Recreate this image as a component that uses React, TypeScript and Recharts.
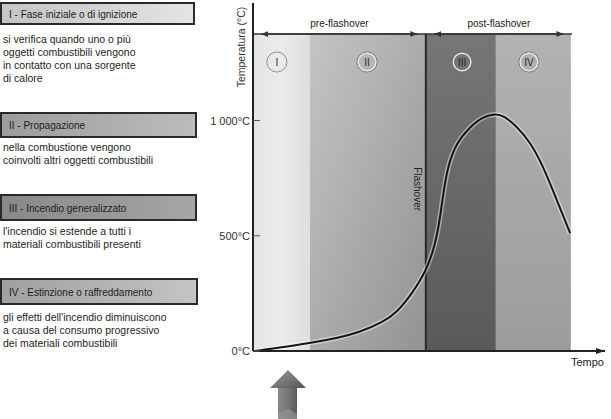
import React from 'react';
import {
  ComposedChart,
  Line,
  XAxis,
  YAxis,
  ReferenceArea,
  ReferenceLine,
  ReferenceDot,
} from 'recharts';

// fire curve (time in arbitrary units 0..100, temperature in °C)
const timeValues = [0.5, 8, 16, 24, 30, 37, 41, 45, 49.3, 51.7, 53.1, 54.1, 55.5, 57.9, 61.2, 65, 68.8, 71.1, 74.9, 78.7, 82.5, 86.3, 90.1];
const temperatureValues = [0, 15, 35, 56, 80, 125, 170, 245, 350, 458, 572, 690, 812, 905, 965, 1015, 1030, 1022, 976, 908, 800, 655, 511];

const temperatureTicks = [0, 500, 1000];
const temperatureTickLabels = ['0°C', '500°C', '1 000°C'];

const phaseNames = ['I', 'II', 'III', 'IV'];
const phaseStart = [0, 16.2, 49.1, 69.0];
const phaseEnd = [16.2, 49.1, 69.0, 90.3];
const phaseLabelTime = [6.8, 32.4, 59.4, 78.4];

const periodNames = ['pre-flashover', 'post-flashover'];
const periodStart = [0, 49.1];
const periodEnd = [49.1, 90.6];

const flashoverTime = 49.1;
const bandTop = 1375;
const phaseLabelTemp = 1254;

const phaseTitles = [
  'I  -  Fase iniziale o di ignizione',
  'II  -  Propagazione',
  'III  -  Incendio generalizzato',
  'IV  -  Estinzione o raffreddamento',
];
const phaseDescriptions = [
  ['si verifica quando uno o più', 'oggetti combustibili vengono', 'in contatto con una sorgente', 'di calore'],
  ['nella combustione vengono', 'coinvolti altri oggetti combustibili'],
  ["l'incendio si estende a tutti i", 'materiali combustibili presenti'],
  ["gli effetti dell'incendio diminuiscono", 'a causa del consumo progressivo', 'dei materiali combustibili'],
];

const chartData = timeValues.map((t, i) => ({ time: t, temperature: temperatureValues[i] }));

const FONT = '"Liberation Sans", Arial, sans-serif';
const phaseFills = ['url(#phase1)', 'url(#phase2)', 'url(#phase3)', 'url(#phase4)'];
const boxFills = ['url(#box1)', 'url(#box2)', 'url(#box3)', 'url(#box4)'];
const boxTop = [2, 112, 194, 278];
const boxHeight = [23, 26, 27, 27];
const boxWidth = [195, 197, 197, 198];
const textTop = [33, 141, 225, 311];

function Defs() {
  return (
    <svg width={0} height={0} style={{ position: 'absolute' }}>
      <defs>
        <linearGradient id="phase1" x1="0" y1="0" x2="1" y2="0">
          <stop offset="0%" stopColor="#e4e4e4" />
          <stop offset="50%" stopColor="#ebebeb" />
          <stop offset="100%" stopColor="#dedede" />
        </linearGradient>
        <linearGradient id="phase2" x1="0" y1="0" x2="1" y2="1">
          <stop offset="0%" stopColor="#c4c4c4" />
          <stop offset="100%" stopColor="#939393" />
        </linearGradient>
        <linearGradient id="phase3" x1="0" y1="0" x2="0" y2="1">
          <stop offset="0%" stopColor="#767676" />
          <stop offset="100%" stopColor="#5a5a5a" />
        </linearGradient>
        <linearGradient id="phase4" x1="0" y1="0" x2="0" y2="1">
          <stop offset="0%" stopColor="#b2b2b2" />
          <stop offset="100%" stopColor="#9c9c9c" />
        </linearGradient>
        <linearGradient id="box1" x1="0" y1="0" x2="1" y2="0">
          <stop offset="0%" stopColor="#c4c4c4" />
          <stop offset="100%" stopColor="#e4e4e4" />
        </linearGradient>
        <linearGradient id="box2" x1="0" y1="0" x2="1" y2="0">
          <stop offset="0%" stopColor="#9c9c9c" />
          <stop offset="100%" stopColor="#bcbcbc" />
        </linearGradient>
        <linearGradient id="box3" x1="0" y1="0" x2="1" y2="0">
          <stop offset="0%" stopColor="#888888" />
          <stop offset="100%" stopColor="#a6a6a6" />
        </linearGradient>
        <linearGradient id="box4" x1="0" y1="0" x2="1" y2="0">
          <stop offset="0%" stopColor="#a0a0a0" />
          <stop offset="100%" stopColor="#c4c4c4" />
        </linearGradient>
        <linearGradient id="arrowHead" x1="0" y1="0" x2="1" y2="1">
          <stop offset="0%" stopColor="#9a9a9a" />
          <stop offset="100%" stopColor="#555555" />
        </linearGradient>
        <linearGradient id="arrowShaft" x1="0" y1="0" x2="1" y2="0">
          <stop offset="0%" stopColor="#8a8a8a" />
          <stop offset="50%" stopColor="#777777" />
          <stop offset="100%" stopColor="#5a5a5a" />
        </linearGradient>
        <marker id="tipEnd" markerWidth="8" markerHeight="8" refX="7" refY="4" orient="auto" markerUnits="userSpaceOnUse">
          <path d="M0,1 L7,4 L0,7 Z" fill="#333" />
        </marker>
        <marker id="tipStart" markerWidth="8" markerHeight="8" refX="1" refY="4" orient="auto" markerUnits="userSpaceOnUse">
          <path d="M8,1 L1,4 L8,7 Z" fill="#333" />
        </marker>
        <marker id="axisArrow" markerWidth="10" markerHeight="8" refX="9" refY="4" orient="auto" markerUnits="userSpaceOnUse">
          <path d="M0,1 L9,4 L0,7 Z" fill="#222" />
        </marker>
      </defs>
    </svg>
  );
}

function TempTick(props: any) {
  const { x, y, payload } = props;
  const idx = temperatureTicks.indexOf(payload.value);
  return (
    <g>
      <line x1={x} x2={x + 7} y1={y} y2={y} stroke="#555" strokeWidth={1} />
      <text x={x - 3} y={y} dy={4} textAnchor="end" fontSize={11} fill="#333" fontFamily={FONT}>
        {temperatureTickLabels[idx]}
      </text>
    </g>
  );
}

function LeftPanel() {
  return (
    <>
      {phaseTitles.map((title, i) => (
        <React.Fragment key={title}>
          <svg
            width={boxWidth[i]}
            height={boxHeight[i]}
            style={{ position: 'absolute', left: 0, top: boxTop[i] }}
          >
            <rect x={1} y={1} width={boxWidth[i] - 2} height={boxHeight[i] - 2} fill={boxFills[i]} stroke="#2a2a2a" strokeWidth={2} />
            <text x={9} y={boxHeight[i] / 2 + 4} fontSize={10} fill="#1e1e1e" fontFamily={FONT}>
              {title}
            </text>
          </svg>
          <div
            style={{
              position: 'absolute',
              left: 3,
              top: textTop[i],
              fontFamily: FONT,
              fontSize: 10.5,
              lineHeight: '13px',
              color: '#1e1e1e',
              whiteSpace: 'nowrap',
            }}
          >
            {phaseDescriptions[i].map((line) => (
              <div key={line}>{line}</div>
            ))}
          </div>
        </React.Fragment>
      ))}
    </>
  );
}

export default function App() {
  return (
    <div style={{ position: 'absolute', left: 0, top: 0, width: 611, height: 419, background: '#fff', overflow: 'hidden' }}>
      <Defs />
      <LeftPanel />
      <ComposedChart
        width={611}
        height={419}
        data={chartData}
        margin={{ top: 3, right: 6, bottom: 48, left: 0 }}
        style={{ position: 'absolute', left: 0, top: 0 }}
      >
        <XAxis
          dataKey="time"
          type="number"
          domain={[0, 100]}
          height={20}
          tick={false}
          tickLine={false}
          axisLine={{ stroke: '#222', strokeWidth: 2, markerEnd: 'url(#axisArrow)' } as any}
          label={{
            content: (p: any) => (
              <text
                x={p.viewBox.x + p.viewBox.width - 1}
                y={p.viewBox.y + 15}
                textAnchor="end"
                fontSize={11}
                fill="#222"
                fontFamily={FONT}
              >
                Tempo
              </text>
            ),
          }}
        />
        <YAxis
          type="number"
          domain={[0, 1510]}
          ticks={temperatureTicks}
          width={253}
          tickSize={0}
          tickMargin={0}
          tickLine={false}
          tick={<TempTick />}
          axisLine={{ stroke: '#222', strokeWidth: 2 }}
          label={{
            content: (p: any) => {
              const cx = p.viewBox.x + p.viewBox.width - 8;
              const cy = p.viewBox.y + 44;
              return (
                <text
                  x={cx}
                  y={cy}
                  transform={`rotate(-90 ${cx} ${cy})`}
                  textAnchor="middle"
                  fontSize={10.5}
                  fill="#333"
                  fontFamily={FONT}
                >
                  Temperatura (°C)
                </text>
              );
            },
          }}
        />

        {phaseNames.map((name, i) => (
          <ReferenceArea
            key={`area-${name}`}
            x1={phaseStart[i]}
            x2={phaseEnd[i]}
            y1={0}
            y2={bandTop}
            fill={phaseFills[i]}
            fillOpacity={1}
            stroke="none"
          />
        ))}

        <ReferenceLine
          segment={[
            { x: periodStart[0], y: bandTop },
            { x: periodEnd[1], y: bandTop },
          ]}
          stroke="#333"
          strokeWidth={1.5}
        />
        {periodNames.map((name, i) => (
          <ReferenceLine
            key={name}
            segment={[
              { x: periodStart[i] + 2.4, y: bandTop },
              { x: periodEnd[i] - 2.4, y: bandTop },
            ]}
            stroke="#333"
            strokeWidth={1.5}
            {...({ markerStart: 'url(#tipStart)', markerEnd: 'url(#tipEnd)' } as any)}
            label={{ value: name, position: 'top', offset: 7, fontSize: 10, fill: '#222', fontFamily: FONT }}
          />
        ))}

        <ReferenceLine
          segment={[
            { x: flashoverTime, y: 0 },
            { x: flashoverTime, y: bandTop },
          ]}
          stroke="#2a2a2a"
          strokeWidth={2}
          label={{
            content: (p: any) => {
              const cx = p.viewBox.x - 12;
              const cy = p.viewBox.y + 155;
              return (
                <text
                  x={cx}
                  y={cy}
                  transform={`rotate(90 ${cx} ${cy})`}
                  textAnchor="middle"
                  fontSize={10}
                  fill="#222"
                  fontFamily={FONT}
                >
                  Flashover
                </text>
              );
            },
          }}
        />

        {phaseNames.map((name, i) => (
          <ReferenceDot
            key={`ring-${name}`}
            x={phaseLabelTime[i]}
            y={phaseLabelTemp}
            r={10}
            fill="none"
            stroke="#6a6a6a"
            strokeWidth={0.8}
          />
        ))}
        {phaseNames.map((name, i) => (
          <ReferenceDot
            key={`dot-${name}`}
            x={phaseLabelTime[i]}
            y={phaseLabelTemp}
            r={8.8}
            fill="none"
            stroke="#e6e6e6"
            strokeWidth={1.5}
            label={{ value: name, position: 'center', fontSize: 10, fill: '#2a2a2a', fontFamily: FONT }}
          />
        ))}

        <Line
          dataKey="temperature"
          type="basis"
          stroke="#ffffff"
          strokeOpacity={0.45}
          strokeWidth={5}
          dot={false}
          activeDot={false}
          isAnimationActive={false}
        />
        <Line
          dataKey="temperature"
          type="basis"
          stroke="#151515"
          strokeWidth={2}
          dot={false}
          activeDot={false}
          isAnimationActive={false}
        />
      </ComposedChart>

      <svg width={40} height={50} style={{ position: 'absolute', left: 268, top: 369 }}>
        <polygon points="20,1 38,19 2,19" fill="url(#arrowHead)" />
        <rect x={10} y={19} width={19} height={31} fill="url(#arrowShaft)" />
        <polygon points="10,45 20,40 29,45 29,50 10,50" fill="#9a9a9a" opacity={0.6} />
      </svg>
    </div>
  );
}
